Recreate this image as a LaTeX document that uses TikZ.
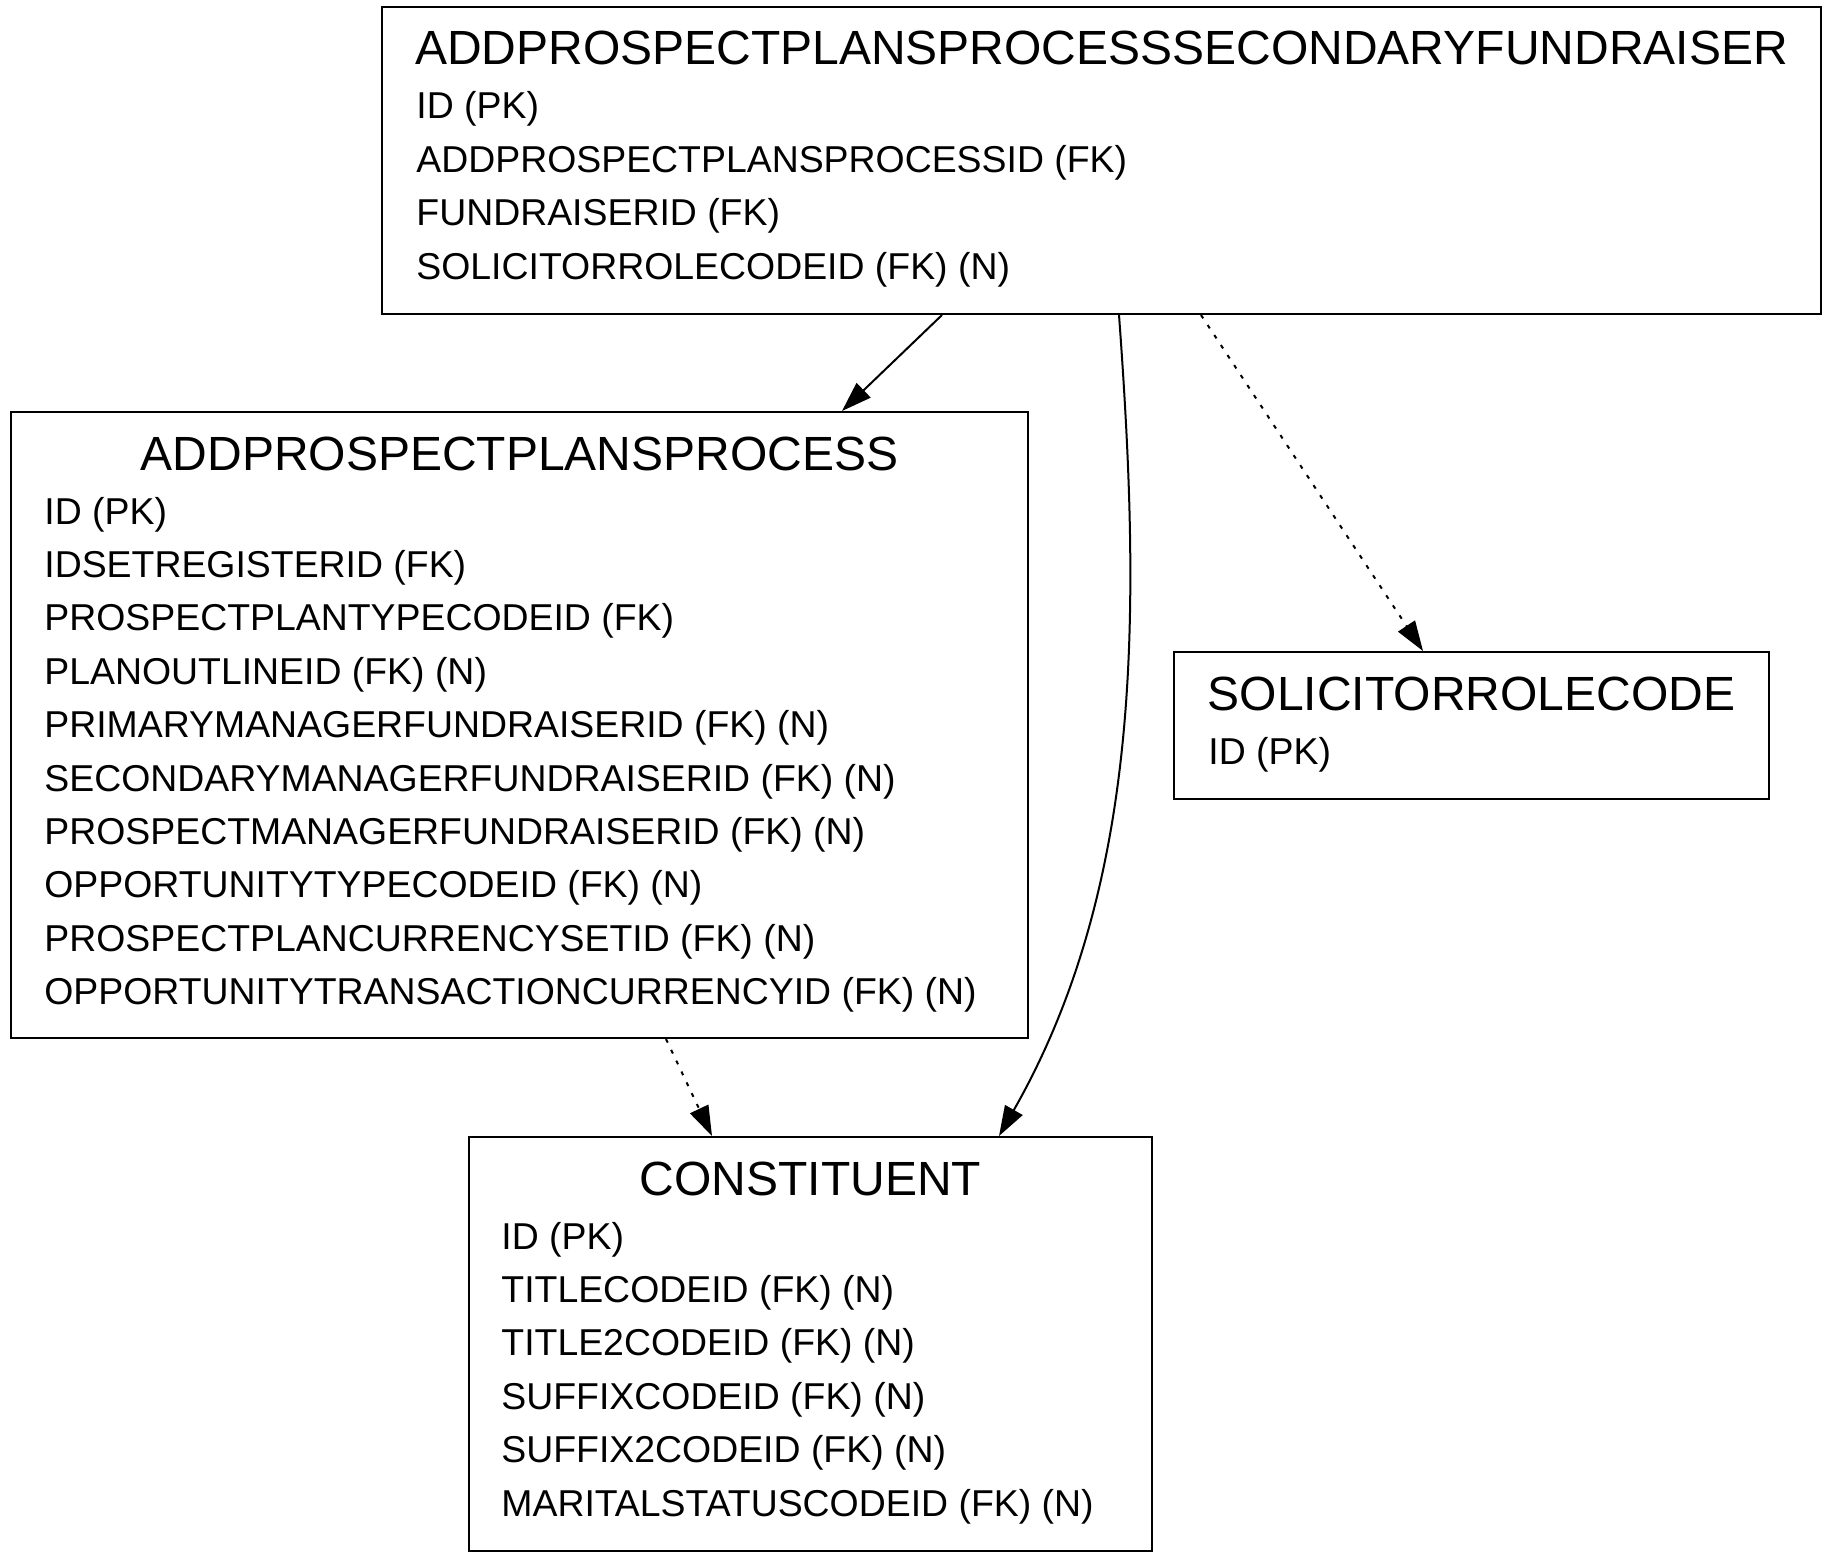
\documentclass[tikz,border=0pt]{standalone}
\usepackage{fontspec}
\setmainfont{Liberation Sans}
\usetikzlibrary{arrows.meta}
\usetikzlibrary{calc}
\usetikzlibrary{positioning}
\tikzstyle{entity} = [draw, line width=1pt, rectangle, inner sep=0pt, anchor=north west]
\tikzstyle{entname} = [font=\fontsize{24}{28}\selectfont, anchor=base, inner sep=0pt]
\tikzstyle{attr} = [font=\fontsize{18.7}{22}\selectfont, anchor=base west, inner sep=0pt]
\tikzstyle{fk} = [draw, line width=1pt, -{Triangle[length=15pt,width=10pt]}]
\tikzstyle{fkopt} = [fk, dash pattern=on 2pt off 4pt]

\begin{document}
\begin{tikzpicture}[x=0.5pt, y=-0.5pt]
    \useasboundingbox (0,0) rectangle (1829,1551);
    % We start by placing the tables
    \node [entity, minimum width=719.5pt, minimum height=153.5pt] (apsf) at (381,6) {};
    \node [entname] (apsf-t) at ($(apsf.north)+(0,59)$) {ADDPROSPECTPLANSPROCESSSECONDARYFUNDRAISER};
    \foreach \f [count=\i] in {ID (PK), ADDPROSPECTPLANSPROCESSID (FK), FUNDRAISERID (FK),
        SOLICITORROLECODEID (FK) (N)}
        \node [attr] (apsf-\i) at ($(apsf.north west)+(35,{113+53.4*(\i-1)})$) {\f};

    \node [entity, minimum width=508.5pt, minimum height=313pt] (apsp) at (10,411) {};
    \node [entname] (apsp-t) at ($(apsp.north)+(0,59)$) {ADDPROSPECTPLANSPROCESS};
    \foreach \f [count=\i] in {ID (PK), IDSETREGISTERID (FK), PROSPECTPLANTYPECODEID (FK),
        PLANOUTLINEID (FK) (N), PRIMARYMANAGERFUNDRAISERID (FK) (N),
        SECONDARYMANAGERFUNDRAISERID (FK) (N), PROSPECTMANAGERFUNDRAISERID (FK) (N),
        OPPORTUNITYTYPECODEID (FK) (N), PROSPECTPLANCURRENCYSETID (FK) (N),
        OPPORTUNITYTRANSACTIONCURRENCYID (FK) (N)}
        \node [attr] (apsp-\i) at ($(apsp.north west)+(34,{113+53.4*(\i-1)})$) {\f};

    \node [entity, minimum width=297.5pt, minimum height=73.5pt] (src) at (1173,651) {};
    \node [entname] (src-t) at ($(src.north)+(0,59)$) {SOLICITORROLECODE};
    \node [attr] (src-1) at ($(src.north west)+(35,113)$) {ID (PK)};

    \node [entity, minimum width=341.5pt, minimum height=207pt] (con) at (468,1136) {};
    \node [entname] (con-t) at ($(con.north)+(0,59)$) {CONSTITUENT};
    \foreach \f [count=\i] in {ID (PK), TITLECODEID (FK) (N), TITLE2CODEID (FK) (N),
        SUFFIXCODEID (FK) (N), SUFFIX2CODEID (FK) (N), MARITALSTATUSCODEID (FK) (N)}
        \node [attr] (con-\i) at ($(con.north west)+(33,{113+53.4*(\i-1)})$) {\f};

    % relations
    \draw [fk] ($(apsf.south west)+(561,0)$) -- ($(apsp.north west)+(832,0)$);
    \draw [fk] ($(apsf.south west)+(738,0)$) .. controls ($(apsf.south west)+(759,287)$)
        and ($(con.north west)+(677,-256)$) .. ($(con.north west)+(531,0)$);
    \draw [fkopt] ($(apsf.south west)+(820,0)$) -- ($(src.north west)+(250,0)$);
    \draw [fkopt] ($(apsp.south west)+(656,0)$) -- ($(con.north west)+(244,0)$);
\end{tikzpicture}
\end{document}
